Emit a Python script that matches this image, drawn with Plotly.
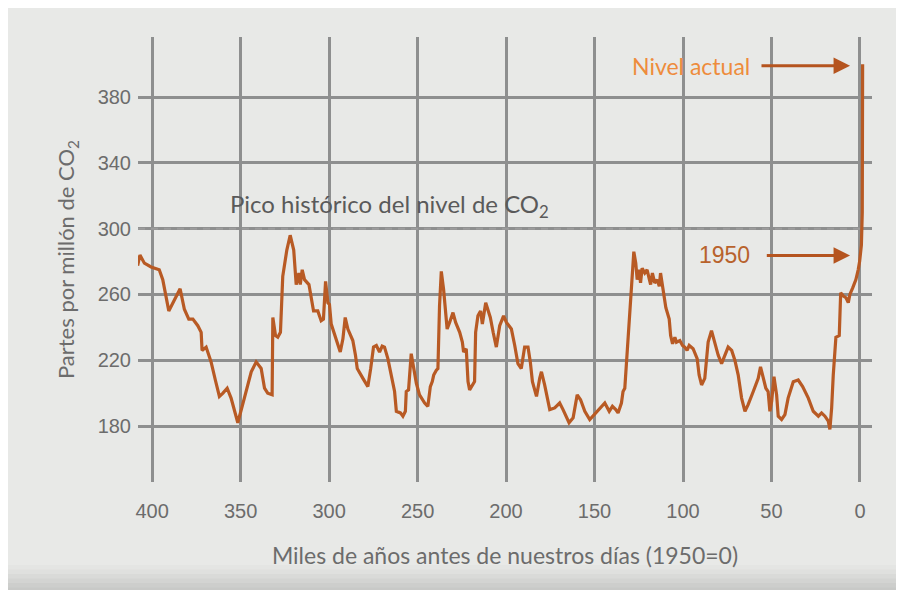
import plotly.graph_objects as go

# Thousands of years before present (1950 = 0)
age_kyr = [408.2, 406.9, 404.4, 400.6, 396, 394, 390.6, 387.4, 384.2, 381.8, 379.3, 377, 374.2, 372.3,
           371.8, 369.5, 366.7, 364.3, 362, 360, 357.6, 355.4, 351.6, 347.9, 344, 341.2, 338.4, 336.5,
           334.7, 332.2, 331.8, 330.3, 329, 327.5, 326.2, 323.9, 322, 320, 318.6, 317.1, 316.3, 315.2,
           313.9, 311.4, 310.1, 308.8, 306.4, 304.5, 303.2, 302, 300.7, 299.8, 298.8, 296.4, 293.7,
           292.2, 290.9, 289.4, 286.6, 285.1, 284.1, 280.9, 278.1, 276.5, 274.9, 273.3, 271.5, 270,
           268.7, 266.8, 264.9, 263, 262, 259.7, 258.3, 256.9, 256.4, 255.1, 253.6, 252.3, 250.7,
           248.9, 246, 244.2, 242.8, 241.7, 240.9, 239.4, 238.5, 237.6, 236.6, 235.3, 234.2, 233.3,
           231.9, 230, 228.5, 226.2, 224.7, 224, 222.5, 221.5, 220.6, 218.7, 217.8, 217.2, 215.9,
           214.4, 213.4, 211.5, 208.9, 207.3, 205.5, 203.6, 201.4, 199.8, 197, 195.1, 193.3, 191.4,
           189.5, 187.6, 186.3, 185.1, 182.8, 181, 180, 178.2, 175.3, 172.5, 169.7, 167.8, 164.4,
           162.1, 159.8, 157.9, 155.5, 152.7, 149.3, 146.5, 144.2, 141.7, 139.9, 138, 136.7, 134.8,
           133.9, 132.9, 131, 129.7, 127.8, 126.7, 125.9, 124.8, 124, 123.1, 121.6, 120.3, 119.2,
           118.3, 117.3, 116, 114.6, 113.4, 112.7, 111.6, 110.9, 109.7, 107.8, 107, 105.9, 104.6,
           103.7, 101.8, 100.3, 99, 97.7, 96.5, 94.3, 92, 90.9, 89.5, 87.7, 85.8, 83.9, 82, 80.1,
           78.2, 76.4, 74.5, 72.5, 70.7, 68.8, 66.9, 65, 63.2, 60.3, 57.5, 56.2, 54.7, 53.2, 51.9,
           50.9, 49.9, 48.6, 47.1, 46.2, 44.3, 42.4, 40.6, 37.7, 34.9, 32.4, 29.2, 26.4, 23.5, 21.7,
           19.8, 17.9, 17, 16, 15.1, 13.6, 11.7, 10.9, 9.4, 7.9, 6.6, 5.7, 4.1, 2.3, 1, 0.2, -0.8,
           -1.3, -1.5]

co2_ppm = [277.5, 284, 279, 276.7, 275, 269, 250, 257, 263.5, 251, 245, 245, 241, 237,
           226, 228, 219, 208, 198, 200, 203, 197, 182, 197, 213, 219, 215, 203,
           200, 199, 246, 235, 234, 237, 271, 287, 296, 287, 266, 273, 266, 275,
           269, 266, 257, 250, 250, 244, 245, 268, 255, 254, 242, 234, 225,
           233, 246, 239, 232, 223, 215, 209, 204, 215, 228, 229, 225, 228.6,
           228, 221, 211, 201, 189, 188, 186, 189, 201, 202, 224, 215, 206,
           199, 194, 192, 204, 207, 211, 214, 215, 253, 274, 263, 251, 239,
           243, 249, 243, 237, 231, 225, 227, 207, 202, 206, 207, 237, 247,
           250, 242, 255, 246, 237, 228, 241, 247, 243, 239, 229, 218, 215,
           228, 228, 219, 207, 198, 209, 213, 205, 190, 191, 194, 190, 182,
           185, 199, 196, 189, 184, 188, 192, 194, 189, 192, 190, 188, 194,
           201, 203, 233, 259, 286, 279, 269, 275, 267, 276, 273, 275, 270,
           266, 273, 267, 269, 265, 273, 264, 261, 252, 245, 235, 230, 234,
           231, 232, 229, 228, 226, 229, 227, 221, 211, 205, 209, 231, 238, 231, 223,
           218, 223, 228, 226, 220, 211, 197, 189, 193, 201, 209, 216, 209, 203, 201,
           189, 195, 210, 199, 186, 184, 187, 197, 207, 208, 204, 197, 189, 186, 188,
           186, 183, 178, 191, 211, 234, 235, 261, 259, 258, 255, 260, 264, 269, 275, 280, 290,
           310, 400]

x_ticks = [400, 350, 300, 250, 200, 150, 100, 50, 0]
y_ticks = [180, 220, 260, 300, 340, 380]
peak_level = 300

x_title = "Miles de años antes de nuestros días (1950=0)"
y_title = "Partes por millón de CO<sub>2</sub>"
peak_label = "Pico histórico del nivel de CO<sub>2</sub>"
now_label = "Nivel actual"
y1950_label = "1950"

LINE = "#b85a24"
GRID = "#8e8f8f"
BG = "#e8e9e7"
TXT = "#6c6c6c"

fig = go.Figure()
fig.add_trace(go.Scatter(x=age_kyr, y=co2_ppm, mode="lines",
                         line=dict(color=LINE, width=3.2), hoverinfo="skip"))

fig.update_layout(
    width=904, height=590,
    margin=dict(l=130, r=40, t=29, b=116),
    paper_bgcolor=BG, plot_bgcolor=BG,
    showlegend=False,
    font=dict(family="Liberation Sans, Arial, sans-serif", color=TXT, size=20),
)
fig.update_xaxes(range=[408, -6.8], tickvals=x_ticks, ticktext=[str(v) for v in x_ticks],
                 showgrid=True, gridcolor=GRID, gridwidth=2.5, zeroline=False, showline=False,
                 ticks="", ticklabelstandoff=15,
                 tickfont=dict(family="Liberation Sans, Arial, sans-serif", size=20, color=TXT),
                 title=dict(text=x_title, standoff=26,
                            font=dict(family="Lato, Open Sans, sans-serif", size=23, color=TXT)))
fig.update_yaxes(range=[146, 416.5], tickvals=y_ticks, ticktext=[str(v) for v in y_ticks],
                 showgrid=True, gridcolor=GRID, gridwidth=2.5, zeroline=False, showline=False,
                 ticks="", ticklabelstandoff=6,
                 tickfont=dict(family="Liberation Sans, Arial, sans-serif", size=20, color=TXT),
                 title=dict(text=y_title, standoff=16,
                            font=dict(family="Lato, Open Sans, sans-serif", size=22, color=TXT)))

# dashed historical peak line
fig.add_shape(type="line", xref="paper", yref="y", x0=0, x1=0.99, y0=peak_level, y1=peak_level,
              line=dict(color="#9c9c9c", width=2, dash="7px,6px"))

# bottom shading of the frame
shades = ["#e4e5e3", "#dfe0de", "#d9dad8", "#d3d4d2", "#cdcecc", "#c8c9c7"]
for i, c in enumerate(shades):
    top_px = 557 + i * 4.5
    y0 = (474 - top_px) / 445
    y1 = (474 - (top_px + 40)) / 445
    fig.add_shape(type="rect", xref="paper", yref="paper", x0=-0.2, x1=1.1, y0=y1, y1=y0,
                  fillcolor=c, line_width=0, layer="below")

fig.add_annotation(x=357, y=314, xref="x", yref="y", text=peak_label, showarrow=False,
                   xanchor="left", yanchor="middle",
                   font=dict(family="Lato, Open Sans, sans-serif", size=24, color="#5a5a5a"))

fig.add_annotation(x=61, y=399, xref="x", yref="y", text=now_label, showarrow=False,
                   xanchor="right", yanchor="middle",
                   font=dict(family="Lato, Open Sans, sans-serif", size=23, color="#ee8c3c"))
fig.add_annotation(x=5.6, y=399, ax=56.5, ay=399, xref="x", yref="y", axref="x", ayref="y",
                   text="", showarrow=True, arrowhead=2, arrowsize=1.1, arrowwidth=3,
                   arrowcolor="#b5541f")

fig.add_annotation(x=61, y=283.7, xref="x", yref="y", text=y1950_label, showarrow=False,
                   xanchor="right", yanchor="middle",
                   font=dict(family="Liberation Sans, Arial, sans-serif", size=23, color="#b8622c"))
fig.add_annotation(x=5.6, y=283.7, ax=53.5, ay=283.7, xref="x", yref="y", axref="x", ayref="y",
                   text="", showarrow=True, arrowhead=2, arrowsize=1.1, arrowwidth=3,
                   arrowcolor="#b5541f")

fig.write_html("out.html")
